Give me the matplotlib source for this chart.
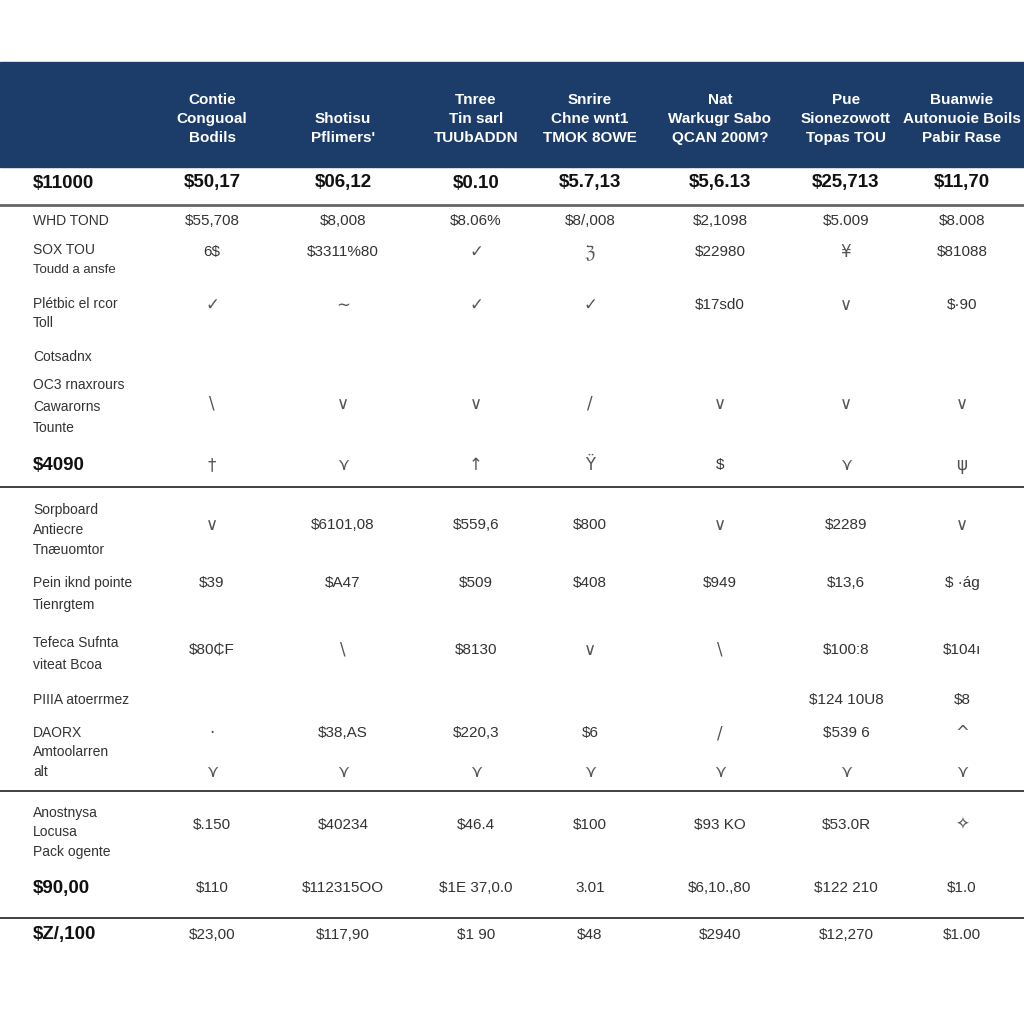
import matplotlib
matplotlib.use('Agg')
import matplotlib.pyplot as plt
from matplotlib.patches import Rectangle

plt.rcParams['font.family'] = ['Liberation Sans Narrow', 'Liberation Sans', 'DejaVu Sans']

# header column titles
headers = [
    ['Contie', 'Conguoal', 'Bodils'],
    ['Shotisu', "Pflimers'"],
    ['Tnree', 'Tin sarl', 'TUUbADDN'],
    ['Snrire', 'Chne wnt1', 'TMOK 8OWE'],
    ['Nat', 'Warkugr Sabo', 'QCAN 200M?'],
    ['Pue', 'Sionezowott', 'Topas TOU'],
    ['Buanwie', 'Autonuoie Boils', 'Pabir Rase'],
]

# first (bold) row
top_label = '$11000'
top_values = ['$50,17', '$06,12', '$0.10', '$5.7,13', '$5,6.13', '$25,713', '$11,70']

# body label lines
labels_sec1 = ['WHD TOND', 'SOX TOU', 'Toudd a ansfe', 'Plétbic el rcor', 'Toll',
               'Cotsadnx', 'OC3 rnaxrours', 'Cawarorns', 'Tounte']
labels_sec2 = ['Sorpboard', 'Antiecre', 'Tnæuomtor', 'Pein iknd pointe', 'Tienrgtem',
               'Tefeca Sufnta', 'viteat Bcoa', 'PIIIA atoerrmez', 'DAORX', 'Amtoolarren', 'alt']
labels_sec3 = ['Anostnysa', 'Locusa', 'Pack ogente']
bold_labels = ['$4090', '$90,00', '$Z/,100']

# body cell rows
row_whd = ['$55,708', '$8,008', '$8.06%', '$8/,008', '$2,1098', '$5.009', '$8.008']
row_sox = ['6$', '$3311%80', '✓', 'ℨ', '$22980', '¥', '$81088']
row_plet = ['✓', '∼', '✓', '✓', '$17sd0', '∨', '$·90']
row_caw = ['\\', '∨', '∨', '/', '∨', '∨', '∨']
row_4090 = ['†', '⋎', '↑', 'Ÿ', '$', '⋎', 'ψ']
row_sorp = ['∨', '$6101,08', '$559,6', '$800', '∨', '$2289', '∨']
row_pein = ['$39', '$A47', '$509', '$408', '$949', '$13,6', '$ ·ág']
row_tefe = ['$80₵F', '\\', '$8130', '∨', '\\', '$100:8', '$104ı']
row_piia = ['', '', '', '', '', '$124 10U8', '$8']
row_daor = ['·', '$38,AS', '$220,3', '$6', '/', '$539 6', '^']
row_alt = ['⋎', '⋎', '⋎', '⋎', '⋎', '⋎', '⋎']
row_anos = ['$.150', '$40234', '$46.4', '$100', '$93 KO', '$53.0R', '✧']
row_9000 = ['$110', '$112315OO', '$1E 37,0.0', '3.01', '$6,10.,80', '$122 210', '$1.0']
row_last = ['$23,00', '$117,90', '$1 90', '$48', '$2940', '$12,270', '$1.00']

# layout (pixel space)
col_x = [212, 343, 476, 590, 720, 846, 962]
label_x = 33
navy = '#1c3c6a'

fig = plt.figure(figsize=(10.24, 10.24), dpi=100)
ax = fig.add_axes([0, 0, 1, 1])
ax.set_xlim(0, 1024)
ax.set_ylim(1024, 0)
ax.axis('off')

ax.add_patch(Rectangle((0, 62), 1024, 105, color=navy, zorder=0))
for x, lines in zip(col_x, headers):
    n = len(lines)
    for i, s in enumerate(lines):
        y = 138 - (n - 1 - i) * 19
        ax.text(x, y, s, color='white', fontsize=11, fontweight='bold',
                ha='center', va='center')

ax.text(label_x, 183, top_label, fontsize=13.5, fontweight='bold', color='#111111', va='center')
for x, s in zip(col_x, top_values):
    ax.text(x, 183, s, fontsize=13.5, fontweight='bold', color='#111111', ha='center', va='center')

# horizontal rules
for y, lw, c in [(205, 2.0, '#666666'), (487, 1.3, '#333333'),
                 (791, 1.3, '#333333'), (918, 1.3, '#333333')]:
    ax.plot([0, 1024], [y, y], color=c, lw=lw)

label_y1 = [221, 250, 270, 304, 323, 357, 385, 407, 428]
label_y2 = [510, 530, 550, 583, 605, 643, 665, 700, 733, 752, 772]
label_y3 = [813, 832, 852]
for labels, ys in [(labels_sec1, label_y1), (labels_sec2, label_y2), (labels_sec3, label_y3)]:
    for s, y in zip(labels, ys):
        small = s in ('Toudd a ansfe',)
        ax.text(label_x, y, s, fontsize=9.5 if small else 10, color='#333333', va='center')

for s, y in zip(bold_labels, [465, 888, 935]):
    ax.text(label_x, y, s, fontsize=13.5, fontweight='bold', color='#111111', va='center')

cell_rows = [(row_whd, 221), (row_sox, 252), (row_plet, 305), (row_caw, 404),
             (row_4090, 465), (row_sorp, 525), (row_pein, 583), (row_tefe, 650),
             (row_piia, 700), (row_daor, 733), (row_alt, 772), (row_anos, 825),
             (row_9000, 888), (row_last, 935)]
for vals, y in cell_rows:
    for x, s in zip(col_x, vals):
        if not s:
            continue
        sym = not s.startswith('$') and not s[0].isdigit()
        if sym:
            ax.text(x, y, s, fontsize=12, color='#555555', ha='center', va='center',
                    family=['DejaVu Sans'])
        else:
            ax.text(x, y, s, fontsize=11, color='#333333', ha='center', va='center')

fig.savefig('out.png', dpi=100, facecolor='white')
